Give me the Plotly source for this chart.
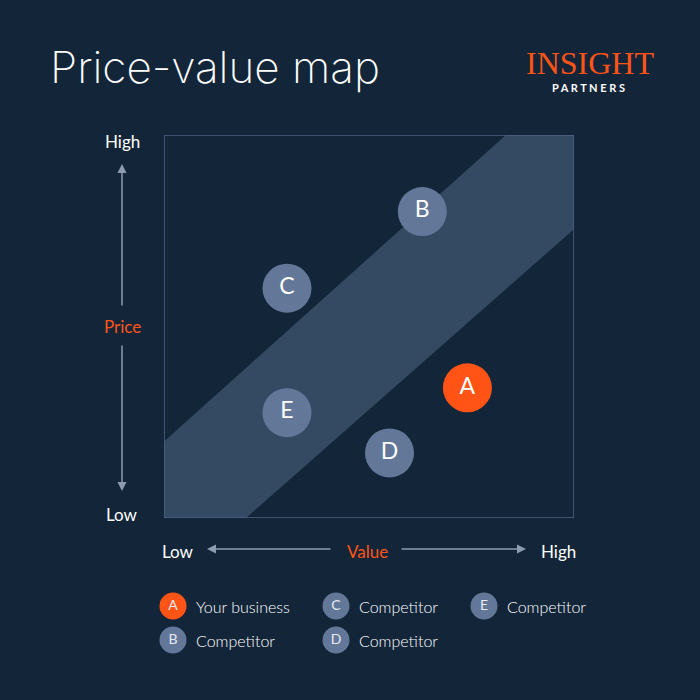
import plotly.graph_objects as go

# ---------------- Data ----------------
letters = ["A", "B", "C", "D", "E"]
value = [7.4, 6.3, 3.0, 5.5, 3.0]          # x: value (0-10)
price = [3.4, 8.0, 6.0, 1.7, 2.75]         # y: price (0-10)
legend_labels = ["Your business", "Competitor", "Competitor", "Competitor", "Competitor"]

# fair-value band (polygon corners, data units)
band_x = [0, 2.0, 10, 10, 8.34, 0]
band_y = [0, 0, 7.54, 10, 10, 2.0]

# ---------------- Style ----------------
BG = "#132639"
BAND = "#344a62"
CIRCLE = "#637899"
ORANGE = "#FF5416"
BORDER = "#4d6283"
ARROW = "#8d9bb0"
FONT = "Lato"

W = H = 700
dot_colors = [ORANGE if l == "A" else CIRCLE for l in letters]

fig = go.Figure()

# band
fig.add_trace(go.Scatter(x=band_x, y=band_y, fill="toself", fillcolor=BAND,
                         mode="lines", line=dict(width=0), hoverinfo="skip"))

# circles
fig.add_trace(go.Scatter(
    x=value, y=price, mode="markers+text", text=letters,
    textposition="middle center",
    textfont=dict(family=FONT, size=23, color="white"),
    marker=dict(size=49, color=dot_colors, line=dict(width=0)),
))

# legend (pixel overlay axes)
col_x = [173, 336, 484]
row_y = [606, 640]
lx = [col_x[i // 2] for i in range(len(letters))]
ly = [row_y[i % 2] for i in range(len(letters))]
fig.add_trace(go.Scatter(
    x=lx, y=ly, xaxis="x2", yaxis="y2", mode="markers+text", text=letters,
    textposition="middle center",
    textfont=dict(family=FONT, size=14, color="#e6ebf2"),
    marker=dict(size=27, color=dot_colors, line=dict(width=0)),
))

ann = []
for x, y, lab in zip(lx, ly, legend_labels):
    ann.append(dict(x=x + 21, y=y, xref="x2", yref="y2", text=lab, showarrow=False,
                    xanchor="left", yanchor="middle",
                    font=dict(family=FONT, size=16, color="white", weight=300)))

# axis words
def label(x, y, t, color="white", size=17):
    ann.append(dict(x=x, y=y, xref="x2", yref="y2", text=t, showarrow=False,
                    xanchor="center", yanchor="middle",
                    font=dict(family=FONT, size=size, color=color)))

label(122, 141, "High")
label(122, 514, "Low")
label(122, 326, "Price", ORANGE)
label(178, 551, "Low")
label(558, 551, "High")
label(367, 551, "Value", ORANGE)

# arrows
def arrow(x0, y0, x1, y1):
    ann.append(dict(x=x1, y=y1, ax=x0, ay=y0, xref="x2", yref="y2",
                    axref="x2", ayref="y2", text="", showarrow=True,
                    arrowhead=2, arrowsize=1.2, arrowwidth=1.5, arrowcolor=ARROW))

arrow(122, 307, 122, 164)
arrow(122, 344, 122, 491)
arrow(332, 549, 207, 549)
arrow(400, 549, 526, 549)

# title + logo
ann.append(dict(x=48, y=67, xref="x2", yref="y2", text="Price-value map", showarrow=False,
                xanchor="left", yanchor="middle",
                font=dict(family="Inter", size=44, color="white", weight=200)))
ann.append(dict(x=590, y=63, xref="x2", yref="y2", text="INSIGHT", showarrow=False,
                xanchor="center", yanchor="middle",
                font=dict(family="Liberation Serif", size=32, color=ORANGE)))
ann.append(dict(x=588, y=87, xref="x2", yref="y2", text="P A R T N E R S", showarrow=False,
                xanchor="center", yanchor="middle",
                font=dict(family=FONT, size=11, color="white", weight=700)))

fig.update_layout(
    width=W, height=H, margin=dict(l=0, r=0, t=0, b=0),
    paper_bgcolor=BG, plot_bgcolor="rgba(0,0,0,0)", showlegend=False,
    xaxis=dict(domain=[164 / W, 574 / W], range=[0, 10], visible=False, fixedrange=True),
    yaxis=dict(domain=[1 - 518 / H, 1 - 135 / H], range=[0, 10], visible=False, fixedrange=True),
    xaxis2=dict(domain=[0, 1], range=[0, W], visible=False, anchor="y2"),
    yaxis2=dict(domain=[0, 1], range=[H, 0], visible=False, anchor="x2"),
    shapes=[dict(type="rect", xref="x", yref="y", x0=0, y0=0, x1=10, y1=10,
                 line=dict(color=BORDER, width=1.5), layer="above")],
    annotations=ann,
)

fig.write_html("out.html", config={"displayModeBar": False},
               post_script="document.body.style.margin='0';")
